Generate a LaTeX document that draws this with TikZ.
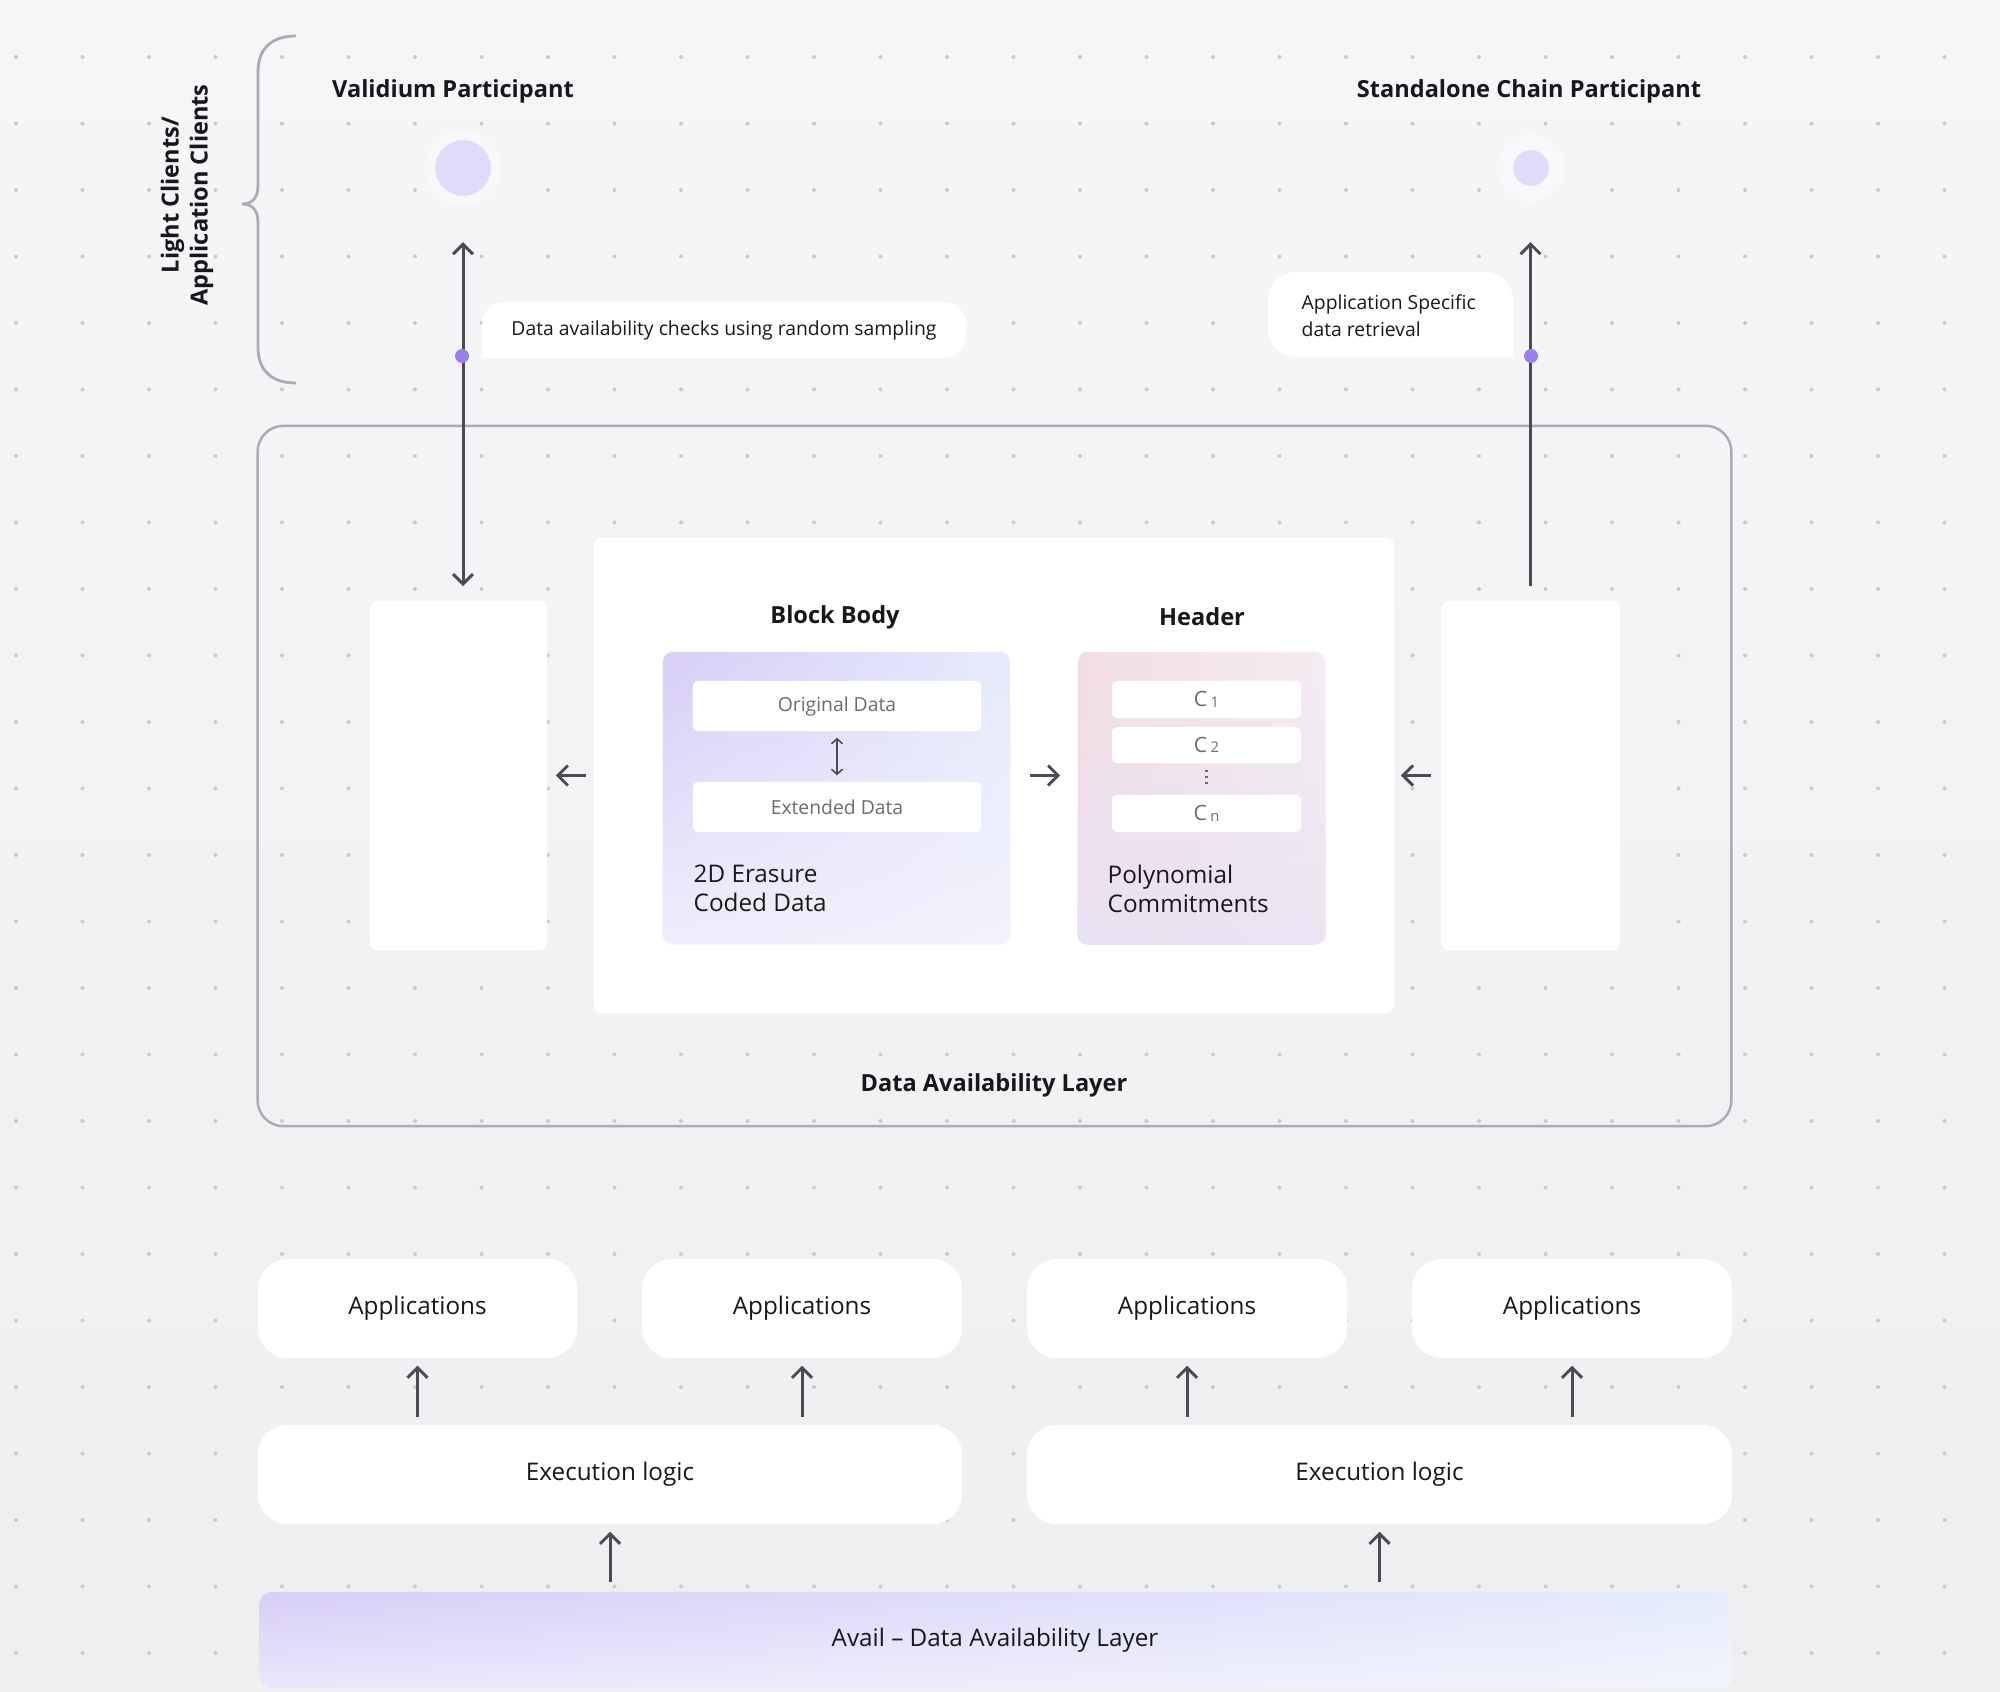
\documentclass[tikz,border=0pt]{standalone}
\usepackage{fontspec}
\setmainfont{Open Sans}
\usetikzlibrary{arrows.meta,fadings}

\definecolor{bgc}{HTML}{EFEFF1}
\definecolor{bgtop}{HTML}{F6F6F8}
\definecolor{dotc}{HTML}{C9C9CF}
\definecolor{frc}{HTML}{ABABB3}
\definecolor{arrc}{HTML}{4B4B53}
\definecolor{txtc}{HTML}{18181C}
\definecolor{greyt}{HTML}{6B6B73}
\definecolor{pdot}{HTML}{9C80EA}
\definecolor{lav}{HTML}{E1DBF9}
\definecolor{halo}{HTML}{F8F8FA}
\definecolor{lavA}{HTML}{D8CEF7}
\definecolor{blueA}{HTML}{E5ECFB}
\definecolor{lavW}{HTML}{F6F3FD}
\definecolor{pinkA}{HTML}{F2DEE2}
\definecolor{pinkB}{HTML}{F5EDF2}
\definecolor{lavB}{HTML}{E8E3F5}

\newcommand\titlef{\fontsize{6.7}{8.2}\selectfont\bfseries}
\newcommand\bodyf{\fontsize{6.9}{8.2}\selectfont}
\newcommand\smallf{\fontsize{5.5}{7.7}\selectfont}
\newcommand\tinyf{\fontsize{6}{7}\selectfont}
\newcommand\subf{\fontsize{4.2}{5}\selectfont}

\tikzset{
  card/.style={fill=white, rounded corners=0.08cm, inner sep=0pt},
  bigcard/.style={card, rounded corners=0.3cm, font=\bodyf, text=txtc},
  cbox/.style={fill=white, rounded corners=0.05cm, inner sep=0pt, minimum width=1.89cm, font=\tinyf, text=greyt},
  arr/.style={draw=arrc, line width=0.85pt, -{Straight Barb[length=0.1cm,width=0.2cm]}},
  pin/.style={circle, fill=pdot, minimum size=0.14cm, inner sep=0pt},
}

\begin{document}
\begin{tikzpicture}[x=0.01cm,y=-0.01cm,text=txtc]
\useasboundingbox (0,0) rectangle (2000,1692);
\shade[top color=bgtop, bottom color=bgc] (0,0) rectangle (2000,1692);

% dotted grid
\foreach \i in {0,...,29}
  \foreach \j in {0,...,24}
    \fill[dotc] ({16+66.5*\i},{57+66.5*\j}) circle (2);

% clients brace
\draw[frc, line width=0.8pt] (296,36) .. controls (272,36) and (258,48) .. (258,72) -- (258,186)
  .. controls (258,198) and (252,204) .. (242,204) .. controls (252,204) and (258,210) .. (258,222)
  -- (258,347) .. controls (258,371) and (272,383) .. (296,383);
\node[rotate=90, font=\titlef, align=center] (lc) at (187,195) {Light Clients/\\Application Clients};

% participants
\node[font=\titlef] (vt) at (453,91) {Validium Participant};
\node[font=\titlef] (st) at (1529,91) {Standalone Chain Participant};
\node[circle, fill=lav, draw=halo, line width=0.1cm, minimum size=0.66cm, inner sep=0pt] (vc) at (463,168) {};
\node[circle, fill=lav, draw=halo, line width=0.16cm, minimum size=0.52cm, inner sep=0pt] (sc) at (1531,168) {};

% bubbles
\fill[white] (482,358) [rounded corners=0.22cm] -- (482,302) -- (966,302) -- (966,358) -- (482,358);
\node[font=\smallf] (b1) at (724,330) {Data availability checks using random sampling};
\fill[white] (1513,357) [rounded corners=0.28cm] -- (1268,357) -- (1268,272) -- (1513,272) -- (1513,357);
\node[font=\smallf, align=left, anchor=west, inner sep=0pt] (b2) at (1301,315.5) {Application Specific\\data retrieval};

% data availability layer
\node[draw=frc, line width=0.7pt, rounded corners=0.26cm, minimum width=14.73cm, minimum height=7cm, inner sep=0pt] (dal) at (994.5,776) {};
\node[font=\titlef] (dall) at (994,1085) {Data Availability Layer};

\node[card, minimum width=1.77cm, minimum height=3.49cm] (lb) at (458.5,775.5) {};
\node[card, minimum width=8cm, minimum height=4.75cm] (blk) at (994,775.5) {};
\node[card, minimum width=1.79cm, minimum height=3.49cm] (rb) at (1530.5,775.5) {};

\node[font=\titlef] (bbt) at (835,617) {Block Body};
\node[font=\titlef] (hdt) at (1202,617) {Header};

% block body
\node[rounded corners=0.1cm, left color=lavA, right color=blueA, minimum width=3.47cm, minimum height=2.92cm, inner sep=0pt] (bb) at (836.5,798) {};
\fill[lavW, path fading=north, opacity=0.85, rounded corners=0.1cm] (bb.south west) rectangle (bb.north east);
\node[cbox, minimum width=2.88cm, minimum height=0.5cm, font=\smallf] (od) at (837,706) {Original Data};
\node[cbox, minimum width=2.88cm, minimum height=0.5cm, font=\smallf] (ed) at (837,807) {Extended Data};
\draw[draw=arrc, line width=0.45pt, {Straight Barb[length=0.05cm,width=0.11cm]}-{Straight Barb[length=0.05cm,width=0.11cm]}, shorten <=0.06cm, shorten >=0.06cm] (od.south) -- (ed.north);
\node[font=\bodyf, align=left, anchor=west, inner sep=0pt] (ec) at (693,888.5) {2D Erasure\\Coded Data};

% header
\node[rounded corners=0.1cm, left color=pinkA, right color=pinkB, minimum width=2.47cm, minimum height=2.92cm, inner sep=0pt] (hd) at (1201.5,798) {};
\fill[lavB, path fading=north, opacity=0.85, rounded corners=0.1cm] (hd.south west) rectangle (hd.north east);
\node[cbox, minimum height=0.37cm] (c1) at (1206.5,699.5) {C\,\raisebox{-0.2pt}{\subf 1}};
\node[cbox, minimum height=0.36cm] (c2) at (1206.5,745) {C\,\raisebox{-0.2pt}{\subf 2}};
\node[cbox, minimum height=0.37cm] (cn) at (1206.5,813.5) {C\,\raisebox{-0.2pt}{\subf n}};
\draw[greyt, line width=0.6pt, dash pattern=on 0.6pt off 1.2pt, shorten <=0.06cm, shorten >=0.06cm] (c2.south) -- (cn.north);
\node[font=\bodyf, align=left, anchor=west, inner sep=0pt] (pc) at (1107,888.5) {Polynomial\\Commitments};

% flows inside the layer
\draw[arr, shorten <=0.07cm, shorten >=0.08cm] (blk.west) -- (lb.east);
\draw[arr, shorten <=0.19cm, shorten >=0.17cm] (bb.east |- lb.east) -- (hd.west |- lb.east);
\draw[arr, shorten <=0.09cm, shorten >=0.06cm] (rb.west) -- (blk.east);

% client links
\draw[arr, {Straight Barb[length=0.1cm,width=0.2cm]}-{Straight Barb[length=0.1cm,width=0.2cm]}, shorten <=0.36cm, shorten >=0.14cm] (vc.south) -- (vc.south |- lb.north);
\draw[arr, shorten <=0.14cm, shorten >=0.4cm] (rb.north) -- (rb.north |- sc.south);
\node[pin] (vd) at (462,356) {};
\node[pin] (sd) at (1531,356) {};

% execution stack
\node[bigcard, minimum width=3.19cm, minimum height=0.99cm] (app1) at (417.5,1308.5) {Applications};
\node[bigcard, minimum width=3.2cm, minimum height=0.99cm] (app2) at (802,1308.5) {Applications};
\node[bigcard, minimum width=3.2cm, minimum height=0.99cm] (app3) at (1187,1308.5) {Applications};
\node[bigcard, minimum width=3.2cm, minimum height=0.99cm] (app4) at (1572,1308.5) {Applications};
\node[bigcard, minimum width=7.04cm, minimum height=0.99cm] (ex1) at (610,1474.5) {Execution logic};
\node[bigcard, minimum width=7.05cm, minimum height=0.99cm] (ex2) at (1379.5,1474.5) {Execution logic};
\node[rounded corners=0.12cm, left color=lavA, right color=blueA, minimum width=14.7cm, minimum height=0.96cm, inner sep=0pt, font=\bodyf] (av) at (995,1640) {};
\fill[white, path fading=north, opacity=0.5, rounded corners=0.12cm] (av.south west) rectangle (av.north east);
\node[font=\bodyf] (avt) at (av.center) {Avail -- Data Availability Layer};

\draw[arr, shorten <=0.07cm, shorten >=0.07cm] (ex1.north -| app1) -- (app1.south);
\draw[arr, shorten <=0.07cm, shorten >=0.07cm] (ex1.north -| app2) -- (app2.south);
\draw[arr, shorten <=0.07cm, shorten >=0.07cm] (ex2.north -| app3) -- (app3.south);
\draw[arr, shorten <=0.07cm, shorten >=0.07cm] (ex2.north -| app4) -- (app4.south);
\draw[arr, shorten <=0.09cm, shorten >=0.07cm] (av.north -| ex1) -- (ex1.south);
\draw[arr, shorten <=0.09cm, shorten >=0.07cm] (av.north -| ex2) -- (ex2.south);
\end{tikzpicture}
\end{document}
